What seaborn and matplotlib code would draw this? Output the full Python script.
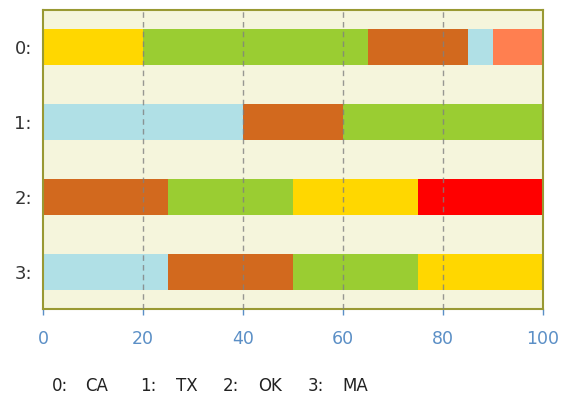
import matplotlib
matplotlib.use('Agg')
import matplotlib.pyplot as plt
import seaborn as sns

# row labels and the state each row stands for
rows = ['0:', '1:', '2:', '3:']
states = ['CA', 'TX', 'OK', 'MA']

# segment widths per row, left to right
row0 = [20, 45, 20, 5, 10]
row1 = [40, 20, 40]
row2 = [25, 25, 25, 25]
row3 = [25, 25, 25, 25]

row0_colors = ['#FFD700', '#9ACD32', '#D2691E', '#B0E0E6', '#FF7F50']
row1_colors = ['#B0E0E6', '#D2691E', '#9ACD32']
row2_colors = ['#D2691E', '#9ACD32', '#FFD700', '#FF0000']
row3_colors = ['#B0E0E6', '#D2691E', '#9ACD32', '#FFD700']

xticks = [0, 20, 40, 60, 80, 100]

sns.set_style('white')
plt.rcParams['font.family'] = ['DejaVu Sans']

fig = plt.figure(figsize=(5.66, 4.01), dpi=100)
ax = fig.add_axes([43 / 566, 1 - 309 / 401, 500 / 566, 299 / 401])
ax.set_facecolor('#F5F5DC')

all_vals = [row0, row1, row2, row3]
all_cols = [row0_colors, row1_colors, row2_colors, row3_colors]
for i, (vals, cols) in enumerate(zip(all_vals, all_cols)):
    left = 0
    for v, c in zip(vals, cols):
        ax.barh(i, v, left=left, height=0.48, color=c, edgecolor='none', zorder=2)
        left += v

# dashed grid sits on top of the bars
for x in xticks[1:-1]:
    ax.axvline(x, color='#808080', linestyle=(0, (4, 3)), linewidth=1, alpha=0.8, zorder=3)

ax.set_xlim(0, 100)
ax.set_ylim(3.5, -0.5)
ax.set_xticks(xticks)
ax.set_yticks(range(len(rows)))
ax.set_yticklabels(rows)

ax.tick_params(axis='x', colors='#5B8FC6', length=4, width=1, pad=11, labelsize=12.5,
               direction='out', bottom=True)
ax.tick_params(axis='y', length=0, pad=8, labelsize=13, labelcolor='#333333')

for side in ['top', 'bottom', 'left', 'right']:
    ax.spines[side].set_visible(True)
    ax.spines[side].set_color('#999933')
    ax.spines[side].set_linewidth(1.5)

# legend line under the chart
num_x = [52, 140, 223, 308]
name_x = [85, 176, 258, 342]
for i, s in enumerate(states):
    fig.text(num_x[i] / 566, 1 - 386 / 401, '{}:'.format(i), fontsize=12,
             color='#222222', va='center')
    fig.text(name_x[i] / 566, 1 - 386 / 401, s, fontsize=12,
             color='#222222', va='center')

plt.savefig('out.png', dpi=100)
